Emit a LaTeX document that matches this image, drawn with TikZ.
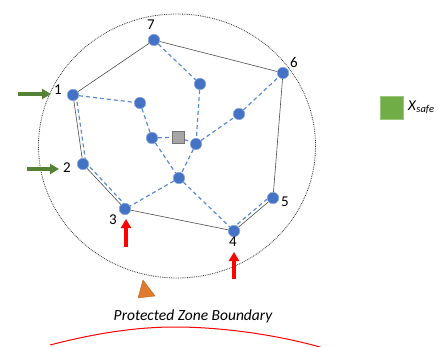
\documentclass[tikz,border=0pt]{standalone}
\usepackage{fontspec}
\setmainfont{Carlito}
\usetikzlibrary{backgrounds,arrows.meta}
\definecolor{nblue}{HTML}{4472C4}
\definecolor{dblue}{HTML}{5B8BD6}
\definecolor{agreen}{HTML}{548235}
\definecolor{sgreen}{HTML}{70AD47}
\definecolor{triorange}{HTML}{E07B2E}
\begin{document}
\begin{tikzpicture}[x=1pt,y=-1pt,
  vtx/.style={circle,fill=nblue,draw=nblue!60!white,line width=0.5pt,inner sep=0pt,minimum size=11.5pt},
  sqnode/.style={rectangle,fill=black!35,draw=black!55,line width=0.6pt,inner sep=0pt,minimum size=12pt},
  lbl/.style={font=\fontsize{15}{15}\selectfont,inner sep=0pt},
  poly/.style={draw=black!70,line width=0.6pt},
  bdash/.style={draw=dblue,line width=1.2pt,dash pattern=on 4pt off 3pt},
  garrow/.style={draw=agreen,line width=3.3pt,-{Triangle[length=9pt,width=10pt]}},
  rarrow/.style={draw=red,line width=3.3pt,-{Triangle[length=9pt,width=10pt]}},
  bound/.style={draw=black!80,line width=0.8pt,densely dotted},
]
\useasboundingbox (0,0) rectangle (438,347);

% boundary ellipse
\draw[bound] (177,146) ellipse [x radius=138.5, y radius=132];

% vertices
\node[vtx] (n1) at (73,95) {};
\node[vtx] (n2) at (83,164) {};
\node[vtx] (n3) at (125,209) {};
\node[vtx] (n4) at (234,231) {};
\node[vtx] (n5) at (273,198) {};
\node[vtx] (n6) at (283,73) {};
\node[vtx] (n7) at (154,40) {};
\node[vtx] (a) at (140,103) {};
\node[vtx] (b) at (200,84) {};
\node[vtx] (c) at (152,138) {};
\node[sqnode] (sq) at (178,137) {};
\node[vtx] (d) at (196,144) {};
\node[vtx] (e) at (239,114) {};
\node[vtx] (f) at (179,178) {};

\begin{pgfonlayer}{background}
% polygon
\draw[poly] (n1) -- (n7);
\draw[poly] (n7) -- (n6);
\draw[poly] (n6) -- (n5);
\draw[poly] (n5) -- (n4);
\draw[poly] (n4) -- (n3);
\draw[poly] (n3) -- (n2);
\draw[poly] (n2) -- (n1);
% dashed network
\draw[bdash] (n1) -- (a);
\draw[bdash] (a) -- (c);
\draw[bdash] (c) -- (sq);
\draw[bdash] (sq) -- (d);
\draw[bdash] (n7) -- (b);
\draw[bdash] (b) -- (d);
\draw[bdash] (d) -- (e);
\draw[bdash] (e) -- (n6);
\draw[bdash] (d) -- (f);
\draw[bdash] (c) -- (f);
\draw[bdash] (f) -- (n3);
\draw[bdash] (f) -- (n4);
\draw[bdash] ([xshift=3pt]n1.center) -- ([xshift=3pt]n2.center);
\draw[bdash] ([xshift=2.2pt,yshift=2pt]n2.center) -- ([xshift=2.2pt,yshift=2pt]n3.center);
\draw[bdash] ([xshift=-1.9pt,yshift=2.3pt]n4.center) -- ([xshift=-1.9pt,yshift=2.3pt]n5.center);
\end{pgfonlayer}

% labels
\node[lbl] (l7) at (151,25) {7};
\node[lbl] (l1) at (58,90) {1};
\node[lbl] (l2) at (67,168) {2};
\node[lbl] (l3) at (113,220) {3};
\node[lbl] (l4) at (233,242) {4};
\node[lbl] (l5) at (285,202) {5};
\node[lbl] (l6) at (294,62) {6};

% green arrows
\coordinate (g1s) at (18,94);
\coordinate (g1e) at (51,94);
\coordinate (g2s) at (27,169);
\coordinate (g2e) at (59,169);
\draw[garrow] (g1s) -- (g1e);
\draw[garrow] (g2s) -- (g2e);

% red arrows
\coordinate (r3s) at (126,247);
\coordinate (r3e) at (126,219);
\coordinate (r4s) at (234,279);
\coordinate (r4e) at (234,252);
\draw[rarrow] (r3s) -- (r3e);
\draw[rarrow] (r4s) -- (r4e);

% legend
\node[rectangle,fill=sgreen,draw=sgreen!70!white,line width=0.5pt,minimum size=23pt,inner sep=0pt] (safe) at (392,108) {};
\node[anchor=west,inner sep=0pt,font=\fontsize{15}{15}\selectfont] (safelbl) at (408,107) {\textit{X}\textsubscript{\textit{safe}}};

% orange triangle
\filldraw[fill=triorange,draw=triorange!85!black,line width=0.4pt] (143,280) -- (138,298) -- (155,296) -- cycle;

% boundary text
\node[inner sep=0pt,font=\fontsize{15.5}{15.5}\selectfont\itshape] (pzb) at (193,316) {Protected Zone Boundary};

% red curve
\draw[red,line width=1pt] (50,345) .. controls (100,332) and (140,327) .. (175,327) .. controls (225,327) and (285,336) .. (330,350);
\end{tikzpicture}
\end{document}
